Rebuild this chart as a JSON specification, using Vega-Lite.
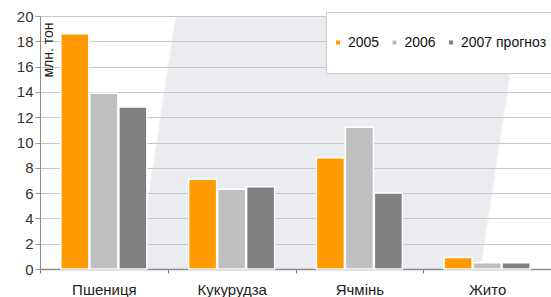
{
  "$schema": "https://vega.github.io/schema/vega-lite/v6.json",
  "width": 511,
  "height": 253,
  "autosize": {"type": "none"},
  "padding": {"left": 40, "top": 16, "right": 0, "bottom": 28},
  "background": "#ffffff",
  "config": {
    "font": "Liberation Sans",
    "view": {
      "stroke": null,
      "fill": {
        "gradient": "linear",
        "x1": 0, "y1": 0, "x2": 1, "y2": 0.075,
        "stops": [
          {"offset": 0, "color": "#ffffff"},
          {"offset": 0.262, "color": "#ffffff"},
          {"offset": 0.266, "color": "#ebecef"},
          {"offset": 0.93, "color": "#ebecef"},
          {"offset": 0.934, "color": "#ffffff"},
          {"offset": 1, "color": "#ffffff"}
        ]
      }
    }
  },
  "data": {
    "values": [
      {"crop": "Пшениця", "year": "2005", "value": 18.6},
      {"crop": "Пшениця", "year": "2006", "value": 13.9},
      {"crop": "Пшениця", "year": "2007 прогноз", "value": 12.8},
      {"crop": "Кукурудза", "year": "2005", "value": 7.1},
      {"crop": "Кукурудза", "year": "2006", "value": 6.3},
      {"crop": "Кукурудза", "year": "2007 прогноз", "value": 6.5},
      {"crop": "Ячмінь", "year": "2005", "value": 8.8},
      {"crop": "Ячмінь", "year": "2006", "value": 11.2},
      {"crop": "Ячмінь", "year": "2007 прогноз", "value": 6.0},
      {"crop": "Жито", "year": "2005", "value": 0.9},
      {"crop": "Жито", "year": "2006", "value": 0.5},
      {"crop": "Жито", "year": "2007 прогноз", "value": 0.5}
    ]
  },
  "mark": {"type": "bar", "stroke": "#ffffff", "strokeWidth": 1.5},
  "encoding": {
    "x": {
      "field": "crop",
      "type": "nominal",
      "sort": ["Пшениця", "Кукурудза", "Ячмінь", "Жито"],
      "scale": {"paddingInner": 0, "paddingOuter": 0},
      "axis": {
        "title": null,
        "labelAngle": 0,
        "tickBand": "extent",
        "labelFont": "Liberation Sans",
        "labelFontSize": 15,
        "labelColor": "#222222",
        "labelPadding": 9,
        "tickSize": 4,
        "tickColor": "#777777",
        "domainColor": "#8c8c8c",
        "domainWidth": 1.5,
        "grid": false
      }
    },
    "xOffset": {
      "field": "year",
      "type": "nominal",
      "scale": {"paddingInner": 0.034, "paddingOuter": 0.72}
    },
    "y": {
      "field": "value",
      "type": "quantitative",
      "scale": {"domain": [0, 20], "nice": false},
      "axis": {
        "title": "млн. тон",
        "titleFont": "Liberation Sans",
        "titleFontSize": 14,
        "titleFontWeight": "normal",
        "titleColor": "#222222",
        "titleAngle": 270,
        "titleAlign": "right",
        "titleBaseline": "alphabetic",
        "titleX": 12,
        "titleY": 6,
        "values": [0, 2, 4, 6, 8, 10, 12, 14, 16, 18, 20],
        "labelFont": "Liberation Sans",
        "labelFontSize": 15,
        "labelColor": "#333333",
        "labelPadding": 2,
        "tickSize": 5,
        "tickColor": "#999999",
        "domainColor": "#8c8c8c",
        "gridColor": "#c8c8c8",
        "gridWidth": 1
      }
    },
    "color": {
      "field": "year",
      "type": "nominal",
      "scale": {"domain": ["2005", "2006", "2007 прогноз"], "range": ["#ff9900", "#bfbfbf", "#808080"]},
      "legend": {
        "title": null,
        "orient": "none",
        "legendX": 286,
        "legendY": -4,
        "direction": "horizontal",
        "fillColor": "#ffffff",
        "strokeColor": "#cccccc",
        "padding": 10,
        "symbolType": "M-0.902,-1M-0.902,1M-1,-0.0976H-0.805V0.0976H-1Z",
        "symbolSize": 1681,
        "symbolStrokeWidth": 0,
        "labelOffset": -29,
        "columnPadding": 12.5,
        "labelFont": "Liberation Sans",
        "labelFontSize": 14,
        "labelColor": "#111111"
      }
    }
  }
}
